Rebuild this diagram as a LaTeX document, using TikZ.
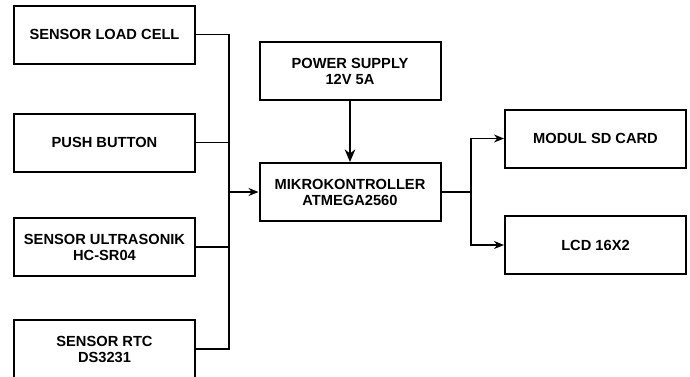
\documentclass[tikz,border=0pt]{standalone}
\usepackage{fontspec}
\setmainfont{Liberation Sans}
\usetikzlibrary{arrows.meta}
\begin{document}
\begin{tikzpicture}[x=0.75pt,y=-0.75pt,
  blk/.style={draw, line width=1.5pt, minimum width=181*0.75pt, minimum height=58*0.75pt,
    inner sep=0pt, align=center, font=\fontsize{11pt}{12pt}\selectfont\bfseries},
  conn/.style={line width=0.9pt},
  arr/.style={conn, -{Stealth[length=7.5pt,width=6pt]}},
  bigarr/.style={conn, -{Stealth[length=9.5pt,width=8pt]}}]
\clip (0,0) rectangle (690,376);
\fill[white] (0,0) rectangle (690,376);
\node[blk] (b1) at (104.5,34.5) {SENSOR LOAD CELL};
\node[blk] (b2) at (104.5,142.5) {PUSH BUTTON};
\node[blk] (b3) at (104.5,247) {SENSOR ULTRASONIK\\HC-SR04};
\node[blk] (b4) at (104.5,349) {SENSOR RTC\\DS3231};
\node[blk] (ps) at (350,71) {POWER SUPPLY\\12V 5A};
\node[blk] (mk) at (350,192) {MIKROKONTROLLER\\ATMEGA2560};
\node[blk] (sd) at (595.5,138.5) {MODUL SD CARD};
\node[blk] (lcd) at (595.5,245) {LCD 16X2};
\coordinate (j1) at (229,192);
\coordinate (j2) at (471,192);
\draw[conn] (b1.east) -| (j1);
\draw[conn] (b2.east) -| (j1);
\draw[conn] (b3.east) -| (j1);
\draw[conn] (b4.east) -| (j1);
\draw[arr] (j1) -- (mk.west);
\draw[bigarr] (ps) -- (mk);
\draw[conn] (mk.east) -- (j2);
\draw[arr] (j2) |- (sd.west);
\draw[arr] (j2) |- (lcd.west);
\end{tikzpicture}
\end{document}
